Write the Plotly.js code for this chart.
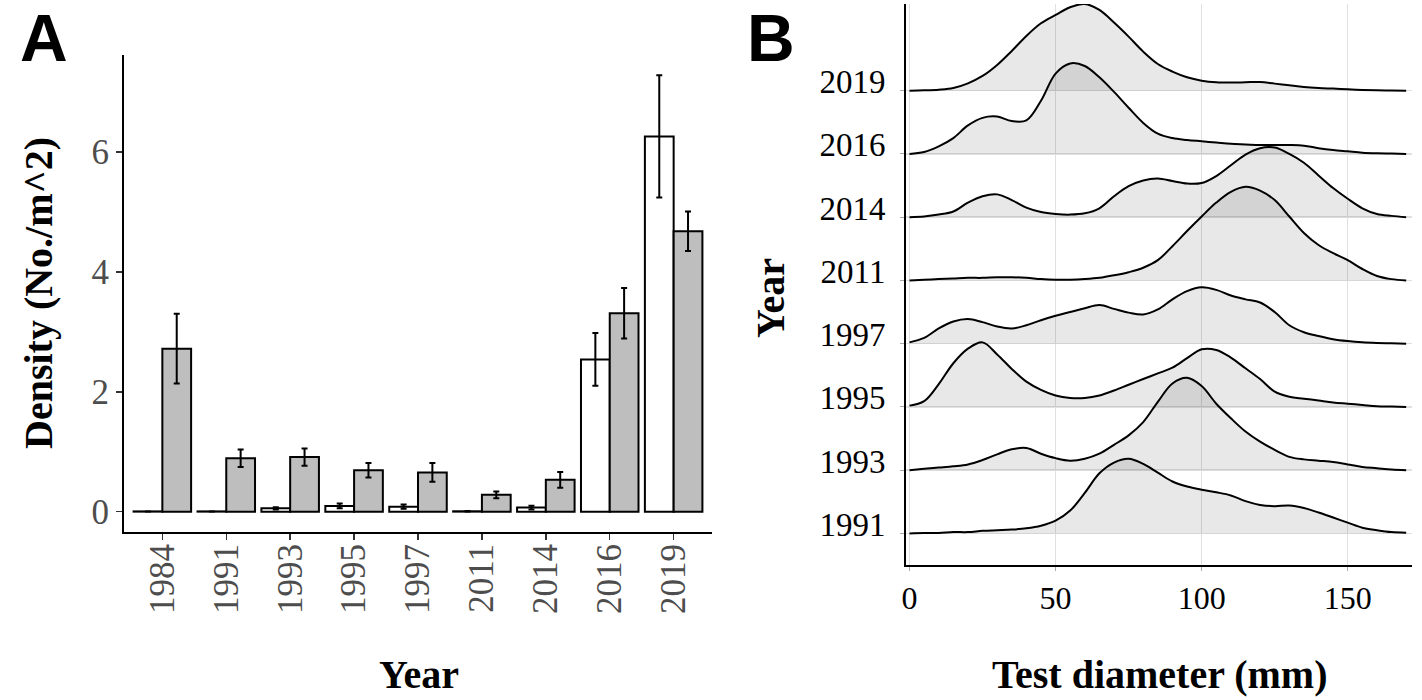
<!DOCTYPE html>
<html>
<head>
<meta charset="utf-8">
<script src="https://cdn.plot.ly/plotly-3.0.1.min.js"></script>
<style>html,body{margin:0;padding:0;background:#fff;}#chart{width:1422px;height:700px;}</style>
</head>
<body>
<div id="chart"></div>
<script>
// ---------- Panel A data ----------
const years = ['1984','1991','1993','1995','1997','2011','2014','2016','2019'];
const whiteVals = [0.004, 0.004, 0.055, 0.095, 0.083, 0.006, 0.067, 2.54, 6.26];
const whiteErr  = [0, 0, 0.02, 0.04, 0.035, 0.005, 0.03, 0.44, 1.02];
const greyVals  = [2.72, 0.89, 0.91, 0.69, 0.655, 0.28, 0.53, 3.31, 4.68];
const greyErr   = [0.58, 0.145, 0.145, 0.12, 0.155, 0.055, 0.13, 0.42, 0.33];

// ---------- Panel B data ----------
const ridgeYears = ['1991','1993','1995','1997','2011','2014','2016','2019'];
const diam = [0,5,10,15,20,25,30,35,40,45,50,55,60,65,70,75,80,85,90,95,100,105,110,115,120,125,130,135,140,145,150,155,160,165,170];
const dens1991 = [0,.005,.005,.02,.02,.04,.05,.06,.08,.12,.20,.36,.64,.95,1.12,1.18,1.10,.96,.82,.74,.69,.65,.60,.51,.45,.43,.44,.40,.33,.25,.17,.09,.05,.02,.01];
const dens1993 = [0,.02,.04,.06,.09,.16,.25,.33,.35,.26,.19,.15,.18,.26,.40,.55,.76,1.08,1.37,1.46,1.33,1.05,.82,.61,.45,.32,.21,.17,.15,.13,.09,.05,.03,.01,0];
const dens1995 = [.02,.09,.36,.69,.92,1.02,.83,.60,.40,.27,.18,.14,.14,.18,.26,.35,.44,.53,.62,.77,.91,.90,.78,.61,.44,.24,.16,.13,.10,.07,.05,.03,.01,.005,0];
const dens1997 = [.02,.09,.24,.35,.39,.34,.27,.24,.29,.37,.44,.50,.56,.61,.55,.49,.46,.54,.70,.83,.89,.85,.76,.70,.65,.50,.29,.18,.12,.07,.04,.02,.01,.005,0];
const dens2011 = [0,.01,.02,.03,.04,.04,.05,.05,.04,.02,.01,.01,.02,.04,.08,.13,.20,.32,.54,.78,1.01,1.23,1.40,1.48,1.42,1.27,1.01,.75,.56,.43,.32,.18,.07,.02,0];
const dens2014 = [0,.01,.04,.09,.23,.33,.36,.27,.15,.08,.05,.04,.06,.14,.33,.49,.58,.61,.57,.53,.54,.65,.82,.99,1.09,1.10,1.00,.86,.66,.46,.29,.14,.05,.02,0];
const dens2016 = [0,.03,.12,.25,.45,.57,.59,.52,.53,.84,1.27,1.43,1.39,1.21,.98,.73,.49,.32,.25,.22,.20,.18,.16,.15,.14,.14,.14,.13,.09,.06,.04,.02,.01,.005,0];
const dens2019 = [0,.005,.016,.042,.116,.232,.406,.628,.865,1.065,1.197,1.319,1.371,1.276,1.076,.854,.617,.422,.301,.211,.158,.132,.127,.132,.137,.111,.084,.058,.042,.032,.021,.011,.005,.003,0];
const ridgeDens = [dens1991, dens1993, dens1995, dens1997, dens2011, dens2014, dens2016, dens2019];

const serif = 'Liberation Serif, Times New Roman, serif';
const traces = [];

traces.push({
  type:'bar', name:'Group 1', x: years, y: whiteVals, xaxis:'x', yaxis:'y',
  marker:{color:'#ffffff', line:{color:'#000', width:2}},
  error_y:{type:'data', array: whiteErr, visible:true, color:'#000', thickness:2, width:3},
  hoverinfo:'skip'
});
traces.push({
  type:'bar', name:'Group 2', x: years, y: greyVals, xaxis:'x', yaxis:'y',
  marker:{color:'#bebebe', line:{color:'#000', width:2}},
  error_y:{type:'data', array: greyErr, visible:true, color:'#000', thickness:2, width:3},
  hoverinfo:'skip'
});

// ridges drawn from top (back) to bottom (front)
for (let i = ridgeYears.length - 1; i >= 0; i--) {
  const d = ridgeDens[i];
  const top = d.map(v => i + v);
  const polyX = diam.concat(diam.slice().reverse());
  const polyY = top.concat(diam.map(() => i));
  traces.push({
    type:'scatter', mode:'lines', x: polyX, y: polyY, xaxis:'x2', yaxis:'y2',
    fill:'toself', fillcolor:'rgba(0,0,0,0.09)', line:{width:0, shape:'spline', smoothing:1},
    hoverinfo:'skip', name: ridgeYears[i] + ' area'
  });
  traces.push({
    type:'scatter', mode:'lines', x: diam, y: top, xaxis:'x2', yaxis:'y2',
    line:{color:'#000', width:2, shape:'spline', smoothing:1},
    hoverinfo:'skip', name: ridgeYears[i]
  });
}

const W = 1422, H = 700;
const px = v => v / W, py = v => 1 - v / H;

const layout = {
  width: W, height: H,
  margin:{l:0, r:0, t:0, b:0},
  paper_bgcolor:'#ffffff', plot_bgcolor:'rgba(0,0,0,0)',
  showlegend:false,
  barmode:'group', bargap:0.1, bargroupgap:0,
  font:{family: serif, color:'#000'},
  xaxis:{
    domain:[px(124), px(712)], anchor:'y', type:'category', range:[-0.6, 8.6],
    tickangle:-90, ticks:'outside', ticklen:6, tickwidth:1.5, tickcolor:'#333',
    showline:true, linecolor:'#000', linewidth:2, showgrid:false, zeroline:false,
    tickfont:{family: serif, size:35, color:'#4d4d4d'}, ticklabelstandoff:-10, fixedrange:true
  },
  yaxis:{
    domain:[py(532), py(55)], anchor:'x', range:[-0.34, 7.62],
    tickvals:[0,2,4,6], ticks:'outside', ticklen:6, tickwidth:1.5, tickcolor:'#333',
    showline:true, linecolor:'#000', linewidth:2, showgrid:false, zeroline:false,
    tickfont:{family: serif, size:35, color:'#4d4d4d'}, ticklabelstandoff:0, fixedrange:true
  },
  xaxis2:{
    domain:[px(906), px(1412)], anchor:'y2', range:[-1.2, 172],
    tickvals:[0,50,100,150], ticks:'outside', ticklen:4, tickwidth:1, tickcolor:'#aaa',
    showline:true, linecolor:'#000', linewidth:2, showgrid:true, gridcolor:'#e0e0e0', gridwidth:1.5,
    zeroline:false, tickfont:{family: serif, size:32, color:'#000'}, fixedrange:true
  },
  yaxis2:{
    domain:[py(565), py(4)], anchor:'x2', range:[-0.5, 8.37],
    tickvals:[0,1,2,3,4,5,6,7], ticktext: ridgeYears, ticks:'outside', ticklen:4, tickwidth:1, tickcolor:'#aaa',
    showline:true, linecolor:'#000', linewidth:2, showgrid:true, gridcolor:'#e0e0e0', gridwidth:1.5,
    zeroline:false, tickfont:{family: serif, size:33, color:'#000'}, ticklabelshift:-9, ticklabelstandoff:8, fixedrange:true
  },
  annotations:[
    {text:'<b>A</b>', xref:'paper', yref:'paper', x:px(44), y:py(38), xanchor:'center', yanchor:'middle', showarrow:false,
     font:{family:'Liberation Sans, Arial, sans-serif', size:66, color:'#000'}},
    {text:'<b>B</b>', xref:'paper', yref:'paper', x:px(771), y:py(38), xanchor:'center', yanchor:'middle', showarrow:false,
     font:{family:'Liberation Sans, Arial, sans-serif', size:66, color:'#000'}},
    {text:'<b>Density (No./m^2)</b>', xref:'paper', yref:'paper', x:px(38), y:py(293), xanchor:'center', yanchor:'middle',
     textangle:-90, showarrow:false, font:{family: serif, size:40, color:'#000'}},
    {text:'<b>Year</b>', xref:'paper', yref:'paper', x:px(419), y:py(674), xanchor:'center', yanchor:'middle', showarrow:false,
     font:{family: serif, size:40, color:'#000'}},
    {text:'<b>Year</b>', xref:'paper', yref:'paper', x:px(770), y:py(298), xanchor:'center', yanchor:'middle',
     textangle:-90, showarrow:false, font:{family: serif, size:40, color:'#000'}},
    {text:'<b>Test diameter (mm)</b>', xref:'paper', yref:'paper', x:px(1159), y:py(674), xanchor:'center', yanchor:'middle', showarrow:false,
     font:{family: serif, size:40, color:'#000'}}
  ]
};

Plotly.newPlot('chart', traces, layout, {staticPlot:true, displayModeBar:false});
</script>
</body>
</html>
